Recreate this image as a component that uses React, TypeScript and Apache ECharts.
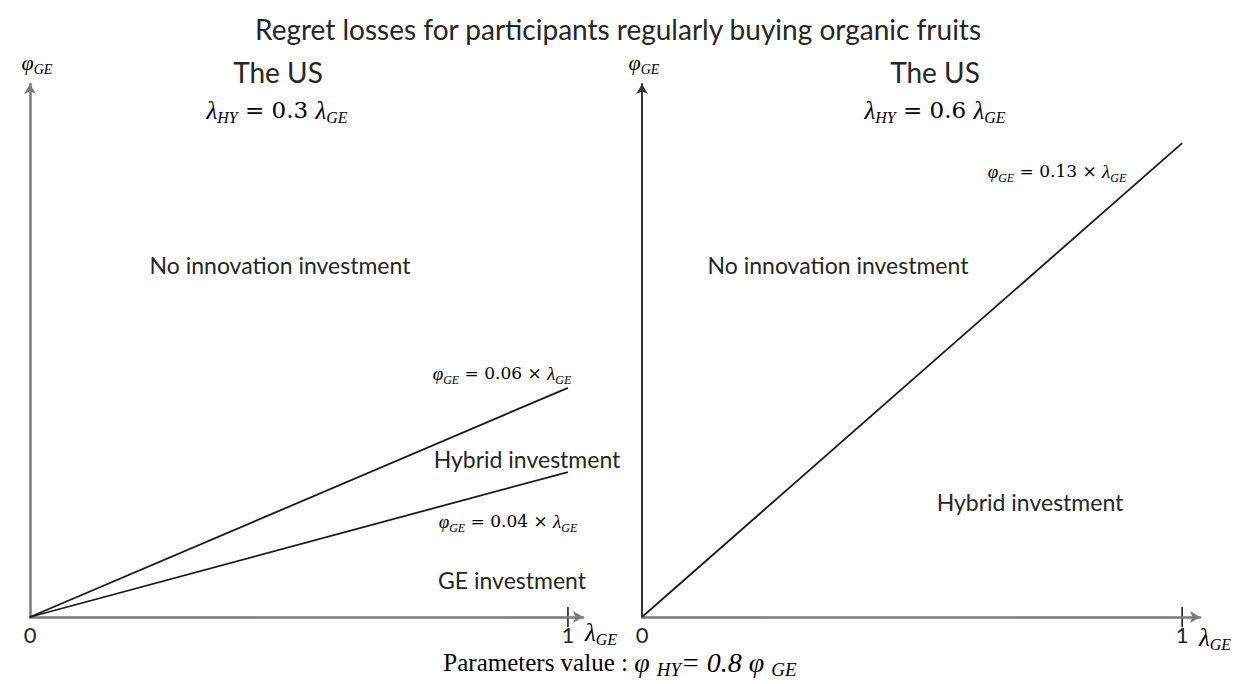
import React, { useEffect, useRef } from "react";
import * as echarts from "echarts";

const chartTitle = "Regret losses for participants regularly buying organic fruits";
const panelTitles = ["The US", "The US"];
const hyRatios = ["0.3", "0.6"];
const leftSlopes = ["0.06", "0.04"];
const rightSlopes = ["0.13"];
// drawn height of each boundary at λGE = 1 (the diagram is not to scale)
const leftLineEnds = [0.43, 0.272];
const rightLineEnds = [0.889];
const xTickValues = [0, 1];
const xMax = [1.028, 1.033];
const regionLabels = ["No innovation investment", "Hybrid investment", "GE investment"];
const phiHyRatio = "0.8";

const SERIF = "'Liberation Serif', serif";
const MATH = "'DejaVu Serif', serif";
const SANS = "Lato, 'Open Sans', sans-serif";

const mathRich = (size: number) => ({
  v: { fontFamily: SERIF, fontStyle: "italic", fontSize: size + 2, lineHeight: size + 8, color: "#222" },
  s: { fontFamily: SERIF, fontStyle: "italic", fontSize: Math.round(size * 0.7), lineHeight: Math.round(size * 0.7), verticalAlign: "bottom", color: "#222" },
  n: { fontFamily: MATH, fontSize: size, lineHeight: size + 8, color: "#222" },
  p: { fontFamily: SERIF, fontSize: size, lineHeight: size + 8, color: "#222" },
  pi: { fontFamily: SERIF, fontStyle: "italic", fontSize: size + 3, lineHeight: size + 8, color: "#222" },
  ps: { fontFamily: SERIF, fontStyle: "italic", fontSize: Math.round(size * 0.75), lineHeight: Math.round(size * 0.75), verticalAlign: "bottom", color: "#222" },
});

function mathText(text: string, x: number, y: number, size: number, align = "center") {
  return {
    type: "text",
    x,
    y,
    style: { text, rich: mathRich(size), align, verticalAlign: "middle" },
  };
}

function plainText(text: string, x: number, y: number, size: number, align = "center") {
  return {
    type: "text",
    x,
    y,
    style: { text, fontFamily: SANS, fontSize: size, fill: "#262626", align, verticalAlign: "middle" },
  };
}

export default function App() {
  const ref = useRef<HTMLDivElement>(null);
  useEffect(() => {
    document.body.style.margin = "0";
    if (!ref.current) return;
    const chart = echarts.init(ref.current, null, { renderer: "svg" });

    const axisGrey = "#7a7a7a";
    const mkX = (i: number, color: string) => ({
      type: "value",
      gridIndex: i,
      min: 0,
      max: xMax[i],
      splitLine: { show: false },
      axisLine: { lineStyle: { color, width: 2.5 }, symbol: ["none", "arrow"], symbolSize: [9, 10] },
      axisTick: { show: false },
      axisLabel: {
        customValues: xTickValues,
        fontFamily: SANS,
        fontSize: 22,
        color: "#262626",
        margin: 6,
        formatter: (v: number) => String(v),
      },
    });
    const mkY = (i: number, color: string, width: number) => ({
      type: "value",
      gridIndex: i,
      min: 0,
      max: 1,
      splitLine: { show: false },
      axisLine: { show: true, lineStyle: { color, width }, symbol: ["none", "arrow"], symbolSize: [9, 10] },
      axisTick: { show: false },
      axisLabel: { show: false },
    });

    const lineStyle = { color: "#1a1a1a", width: 1.8 };
    const series: any[] = [];
    leftLineEnds.forEach((end) => {
      series.push({
        type: "line",
        xAxisIndex: 0,
        yAxisIndex: 0,
        data: [[0, 0], [1, end]],
        symbol: "none",
        lineStyle,
        silent: true,
      });
    });
    rightLineEnds.forEach((end) => {
      series.push({
        type: "line",
        xAxisIndex: 1,
        yAxisIndex: 1,
        data: [[0, 0], [1, end]],
        symbol: "none",
        lineStyle,
        silent: true,
      });
    });

    const texts: any[] = [
      { type: "text", x: 618, y: 29, style: { text: chartTitle, fontFamily: SANS, fontSize: 28, fill: "#262626", align: "center", verticalAlign: "middle" } },
      mathText("{v|φ}{s|GE}", 37, 62, 20),
      mathText("{v|φ}{s|GE}", 644, 62, 20),
      plainText(panelTitles[0], 278, 72, 28),
      plainText(panelTitles[1], 935, 72, 28),
      mathText(`{v|λ}{s|HY}{n| = ${hyRatios[0]} }{v|λ}{s|GE}`, 277, 110, 23),
      mathText(`{v|λ}{s|HY}{n| = ${hyRatios[1]} }{v|λ}{s|GE}`, 935, 110, 23),
      plainText(regionLabels[0], 280, 265, 23),
      plainText(regionLabels[0], 838, 265, 23),
      mathText(`{v|φ}{s|GE}{n| = ${leftSlopes[0]} × }{v|λ}{s|GE}`, 502, 373, 17),
      plainText(regionLabels[1], 527, 459, 23),
      mathText(`{v|φ}{s|GE}{n| = ${leftSlopes[1]} × }{v|λ}{s|GE}`, 508, 521, 17),
      plainText(regionLabels[2], 512, 580, 23),
      mathText(`{v|φ}{s|GE}{n| = ${rightSlopes[0]} × }{v|λ}{s|GE}`, 1057, 171, 17),
      plainText(regionLabels[1], 1030, 502, 23),
      mathText("{v|λ}{s|GE}", 585, 632, 23, "left"),
      mathText("{v|λ}{s|GE}", 1199, 637, 23, "left"),
      mathText(`{p|Parameters value : }{pi|φ }{ps|HY}{pi|= ${phiHyRatio} φ }{ps|GE}`, 620, 662, 25),
    ];

    const option: any = {
      animation: false,
      backgroundColor: "#ffffff",
      grid: [
        { left: 30, top: 84, width: 553, height: 533, outerBoundsMode: "none" },
        { left: 642, top: 84, width: 558, height: 533, outerBoundsMode: "none" },
      ],
      xAxis: [mkX(0, axisGrey), mkX(1, axisGrey)],
      yAxis: [mkY(0, axisGrey, 2.5), mkY(1, "#333333", 2)],
      series,
      graphic: texts,
    };
    chart.setOption(option);

    // tick marks at λGE = 1, positioned through the axis scale
    const ticks: any[] = [];
    [0, 1].forEach((g) => {
      const p = chart.convertToPixel({ gridIndex: g } as any, [1, 0]) as number[];
      ticks.push({ type: "line", shape: { x1: p[0], y1: p[1] - 10, x2: p[0], y2: p[1] + 10 }, style: { stroke: "#1a1a1a", lineWidth: 1.6 } });
    });
    chart.setOption({ graphic: [...texts, ...ticks] });

    return () => chart.dispose();
  }, []);
  return <div ref={ref} style={{ width: 1238, height: 684 }} />;
}
